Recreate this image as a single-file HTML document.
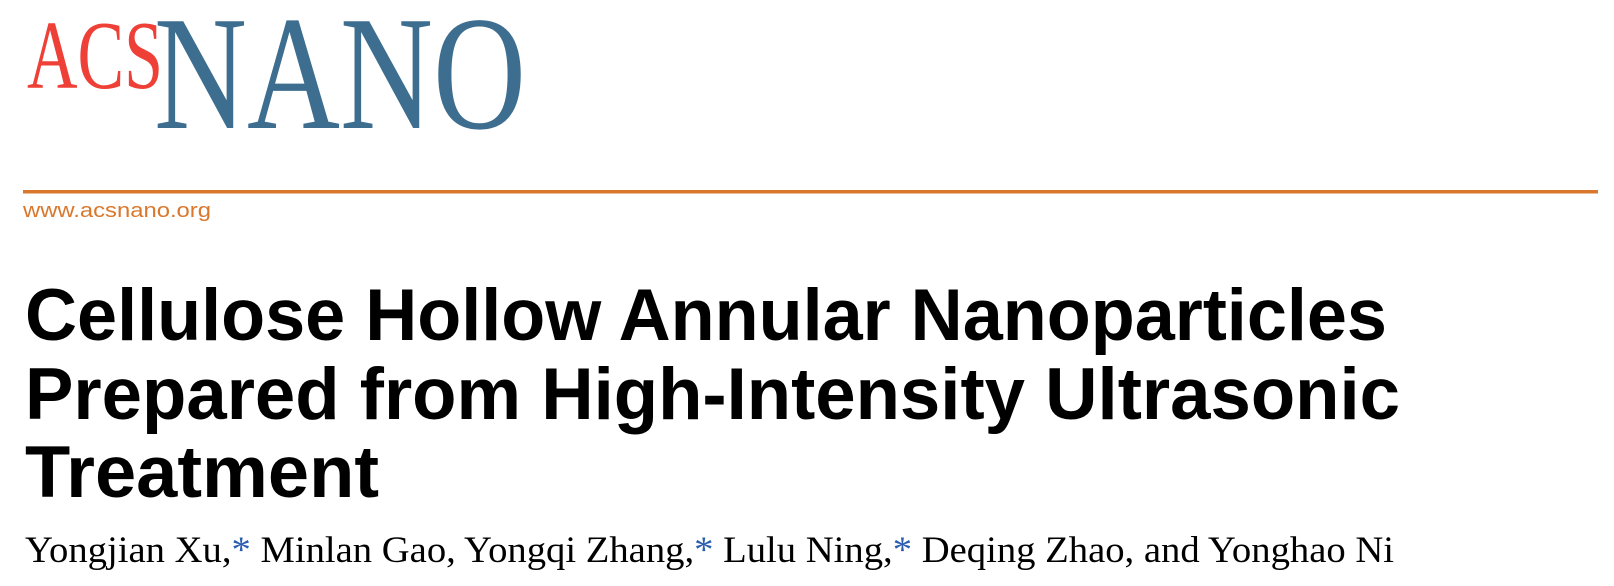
<!DOCTYPE html>
<html><head><meta charset="utf-8"><style>
html,body{margin:0;padding:0;background:#fff;}
svg{display:block;}
</style></head><body>
<svg width="1614" height="586" viewBox="0 0 1614 586" xmlns="http://www.w3.org/2000/svg">
<rect width="1614" height="586" fill="#fff"/>
<text x="27" y="88" font-family="Liberation Serif, serif" font-size="97" fill="#ee4036" textLength="136" lengthAdjust="spacingAndGlyphs">ACS</text>
<text x="154" y="128" font-family="Liberation Serif, serif" font-size="163" fill="#3e6e8f" textLength="372" lengthAdjust="spacingAndGlyphs">NANO</text>
<rect x="23" y="190" width="1575" height="3.5" fill="#d9782d"/>
<text x="23" y="217" font-family="Liberation Sans, sans-serif" font-size="20" fill="#d9782d" textLength="188" lengthAdjust="spacingAndGlyphs">www.acsnano.org</text>
<g font-family="Liberation Sans, sans-serif" font-weight="bold" font-size="73" fill="#000">
<text x="25" y="340" textLength="1362" lengthAdjust="spacingAndGlyphs">Cellulose Hollow Annular Nanoparticles</text>
<text x="25" y="419" textLength="1375" lengthAdjust="spacingAndGlyphs">Prepared from High-Intensity Ultrasonic</text>
<text x="25" y="497" textLength="354" lengthAdjust="spacingAndGlyphs">Treatment</text>
</g>
<text x="25" y="562" font-family="Liberation Serif, serif" font-size="37" fill="#000" textLength="1369" lengthAdjust="spacingAndGlyphs">Yongjian Xu,<tspan fill="#2a5db0">*</tspan> Minlan Gao, Yongqi Zhang,<tspan fill="#2a5db0">*</tspan> Lulu Ning,<tspan fill="#2a5db0">*</tspan> Deqing Zhao, and Yonghao Ni</text>
</svg>
</body></html>
